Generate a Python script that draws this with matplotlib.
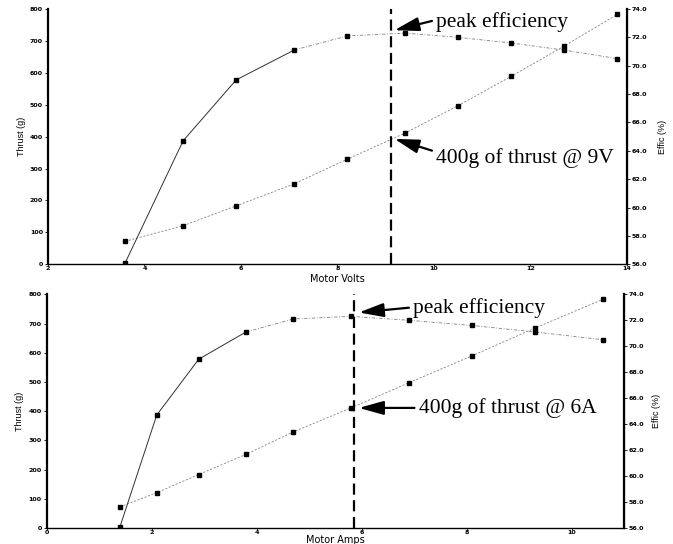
"""Thrust and efficiency vs motor volts / motor amps, two stacked panels."""

import matplotlib.pyplot as plt

# same motor runs, plotted against volts (top) and amps (bottom)
motor_volts = [3.6, 4.8, 5.9, 7.1, 8.2, 9.4, 10.5, 11.6, 12.7, 13.8]
motor_amps = [1.4, 2.1, 2.9, 3.8, 4.7, 5.8, 6.9, 8.1, 9.3, 10.6]
thrust_g = [72, 121, 183, 252, 329, 411, 497, 589, 684, 783]
effic_pct = [56.1, 64.7, 69.0, 71.1, 72.1, 72.3, 72.0, 71.6, 71.1, 70.5]

volts_ticks = [2, 4, 6, 8, 10, 12, 14]
amps_ticks = [0, 2, 4, 6, 8, 10]
thrust_ticks = [0, 100, 200, 300, 400, 500, 600, 700, 800]
effic_ticks = [56, 58, 60, 62, 64, 66, 68, 70, 72, 74]

peak_volts = 9.1
peak_amps = 5.85
solid_upto = 4  # first segment of the efficiency curve is drawn solid

TICK_FONT = dict(family="DejaVu Sans", size=4.6, weight="bold")
AXLABEL_FONT = dict(family=["Liberation Sans Narrow", "Liberation Sans"], size=6.5)
NOTE_FONT = dict(family="Liberation Serif", size=15.5)


def panel(fig, rect, xs, xlim, xticks, xlabel, vline_x, xlabel_y, ylab_left, ylab_right, notes):
    ax = fig.add_axes(rect)
    ax2 = ax.twinx()

    # thrust (left axis)
    ax.plot(xs, thrust_g, color="#808080", lw=0.6, ls=(0, (2.5, 2)))
    ax.plot(xs, thrust_g, ls="none", marker="s", ms=2.2, color="black")

    # efficiency (right axis)
    ax2.plot(xs[:solid_upto], effic_pct[:solid_upto], color="#303030", lw=0.7)
    ax2.plot(xs[solid_upto - 1:], effic_pct[solid_upto - 1:], color="#808080", lw=0.6,
             ls=(0, (4, 2, 1, 2)))
    ax2.plot(xs, effic_pct, ls="none", marker="s", ms=2.2, color="black")

    ax.axvline(vline_x, color="black", lw=1.6, ls=(0, (5, 2.5)), clip_on=False)

    ax.set_xlim(*xlim)
    ax.set_ylim(0, 800)
    ax2.set_ylim(56, 74)
    ax.set_xticks(xticks)
    ax.set_yticks(thrust_ticks)
    ax2.set_yticks(effic_ticks)
    ax2.set_yticklabels([f"{v:.1f}" for v in effic_ticks])

    for a in (ax, ax2):
        a.spines["top"].set_visible(False)
        a.tick_params(length=2, width=0.6, pad=1.5)
        for lab in a.get_xticklabels() + a.get_yticklabels():
            lab.set(**TICK_FONT)
    ax.spines["left"].set_linewidth(1.6)
    ax2.spines["right"].set_linewidth(1.6)
    ax.spines["bottom"].set_linewidth(1.0)
    ax2.spines["left"].set_visible(False)
    ax2.spines["bottom"].set_visible(False)
    ax.tick_params(axis="x", length=1.5, pad=0.1)

    ax.set_xlabel(xlabel, va="center", family="DejaVu Sans", size=7.0)
    ax.xaxis.set_label_coords(0.5, xlabel_y)
    ax.set_ylabel("Thrust (g)", va="center", **AXLABEL_FONT)
    ax.yaxis.set_label_coords(ylab_left, 0.5)
    ax2.set_ylabel("Effic (%)", va="center", rotation=90, **AXLABEL_FONT)
    ax2.yaxis.set_label_coords(ylab_right, 0.5)

    for text, target, on_eff, offset, rel in notes:
        target_ax = ax2 if on_eff else ax
        target_ax.annotate(
            text, xy=target, xycoords="data", xytext=offset, textcoords="offset points",
            ha="left", va="center", **NOTE_FONT,
            arrowprops=dict(arrowstyle="-|>,head_length=1.5,head_width=0.42", lw=1.6,
                            color="black", mutation_scale=10, shrinkA=1, shrinkB=0,
                            relpos=rel),
        )
    return ax, ax2


fig = plt.figure(figsize=(6.73, 5.44), dpi=100)

panel(
    fig, [0.0713, 0.5142, 0.8603, 0.4693], motor_volts, (2, 14), volts_ticks, "Motor Volts",
    peak_volts, -0.056, -0.045, 1.062,
    [("peak efficiency", (peak_volts + 0.08, 72.5), True, (30, 6), (0, 0.6)),
     ("400g of thrust @ 9V", (peak_volts + 0.08, 393), False, (30, -13.7), (0, 0.8))],
)

panel(
    fig, [0.0691, 0.0295, 0.8581, 0.4295], motor_amps, (0, 11), amps_ticks, "Motor Amps",
    peak_amps, -0.053, -0.046, 1.057,
    [("peak efficiency", (peak_amps + 0.1, 72.6), True, (39, 3), (0, 0.55)),
     ("400g of thrust @ 6A", (peak_amps + 0.1, 411), False, (43, 0), (0, 0.5))],
)

fig.savefig("out.png", dpi=100)
